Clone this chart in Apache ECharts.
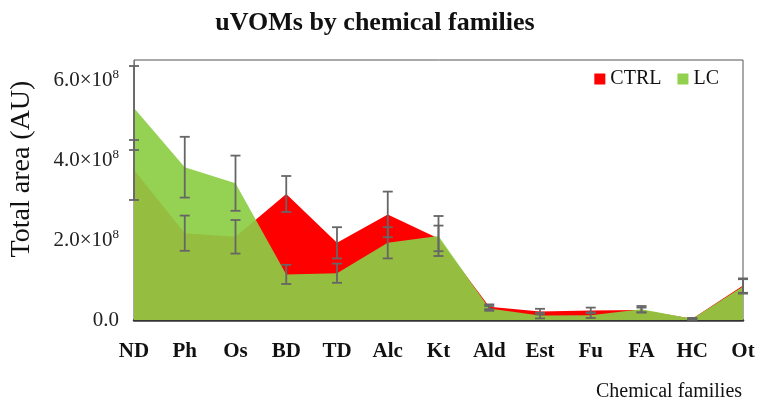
<!DOCTYPE html>
<html><head><meta charset="utf-8">
<script src="https://cdn.jsdelivr.net/npm/echarts@6/dist/echarts.min.js"></script>
<style>html,body{margin:0;padding:0;background:#fff}#c{width:760px;height:412px}</style>
</head><body><div id="c"></div>
<script>
const categories = ['ND','Ph','Os','BD','TD','Alc','Kt','Ald','Est','Fu','FA','HC','Ot'];
const ctrlValues = [3.75e8, 2.17e8, 2.08e8, 3.15e8, 1.93e8, 2.64e8, 2.04e8, 0.33e8, 0.21e8, 0.24e8, 0.25e8, 0.03e8, 0.86e8];
const ctrlErrors = [0.75e8, 0.44e8, 0.42e8, 0.45e8, 0.39e8, 0.57e8, 0.32e8, 0.06e8, 0.07e8, 0.07e8, 0.06e8, 0.02e8, 0.18e8];
const lcValues   = [5.30e8, 3.82e8, 3.42e8, 1.14e8, 1.17e8, 1.93e8, 2.10e8, 0.29e8, 0.11e8, 0.12e8, 0.27e8, 0.03e8, 0.84e8];
const lcErrors   = [1.05e8, 0.76e8, 0.69e8, 0.24e8, 0.24e8, 0.39e8, 0.50e8, 0.06e8, 0.07e8, 0.07e8, 0.08e8, 0.02e8, 0.18e8];
const yTicks = [0, 2e8, 4e8, 6e8];
const yTickLabels = ['0.0', '2.0×10|8', '4.0×10|8', '6.0×10|8'];

const serif = '"Liberation Serif", "DejaVu Serif", serif';

function errData(vals, errs) {
  return vals.map((v, i) => [i, v, errs[i]]);
}
function renderErr(params, api) {
  const x = api.value(0), v = api.value(1), e = api.value(2);
  const top = api.coord([x, v + e]);
  const bot = api.coord([x, v - e]);
  const hw = 5;
  const style = { stroke: '#666', lineWidth: 1.8, fill: null };
  return {
    type: 'group',
    children: [
      { type: 'line', shape: { x1: top[0], y1: top[1], x2: bot[0], y2: bot[1] }, style },
      { type: 'line', shape: { x1: top[0] - hw, y1: top[1], x2: top[0] + hw, y2: top[1] }, style },
      { type: 'line', shape: { x1: bot[0] - hw, y1: bot[1], x2: bot[0] + hw, y2: bot[1] }, style }
    ]
  };
}

const chart = echarts.init(document.getElementById('c'), null, { renderer: 'canvas' });
chart.setOption({
  animation: false,
  backgroundColor: '#fff',
  title: {
    text: 'uVOMs by chemical families',
    left: 370,
    textAlign: 'center',
    top: 5,
    textStyle: { fontFamily: serif, fontSize: 26, fontWeight: 'bold', color: '#111' }
  },
  legend: {
    data: ['CTRL', 'LC'],
    right: 36,
    top: 64,
    icon: 'rect',
    itemWidth: 11,
    itemHeight: 11,
    itemGap: 16,
    textStyle: { fontFamily: serif, fontSize: 20, color: '#111' }
  },
  grid: {
    left: 134, right: 17, top: 60, bottom: 92,
    show: true, borderColor: '#555', borderWidth: 1, backgroundColor: 'transparent'
  },
  xAxis: {
    type: 'category',
    data: categories,
    boundaryGap: false,
    axisLine: { lineStyle: { color: '#333', width: 2.5 } },
    axisTick: { show: false },
    axisLabel: { fontFamily: serif, fontSize: 21, fontWeight: 'bold', color: '#111', margin: 21, interval: 0 }
  },
  yAxis: {
    type: 'value',
    min: 0,
    max: 6.5e8,
    interval: 2e8,
    splitLine: { show: false },
    axisTick: { show: false },
    axisLine: { show: true, lineStyle: { color: '#777', width: 1 } },
    axisLabel: {
      margin: 15,
      showMaxLabel: false,
      formatter: function (v) {
        const idx = yTicks.indexOf(v);
        if (idx < 0) return '';
        const parts = yTickLabels[idx].split('|');
        return parts.length > 1 ? '{a|' + parts[0] + '}{b|' + parts[1] + '}' : '{a|' + parts[0] + '}';
      },
      rich: {
        a: { fontFamily: serif, fontSize: 21, color: '#222' },
        b: { fontFamily: serif, fontSize: 13, color: '#222', padding: [0, 0, 10, 0] }
      }
    }
  },
  graphic: [
    {
      type: 'text',
      left: 596,
      top: 382,
      style: { text: 'Chemical families', font: '20px ' + serif, fill: '#111' }
    },
    {
      type: 'text',
      x: 22,
      y: 169,
      rotation: Math.PI / 2,
      style: { text: 'Total area (AU)', font: '28px ' + serif, fill: '#111', align: 'center', verticalAlign: 'middle' }
    }
  ],
  series: [
    {
      name: 'CTRL', type: 'line', data: ctrlValues, symbol: 'none',
      lineStyle: { width: 0 }, itemStyle: { color: '#ff0000' },
      areaStyle: { color: '#ff0000', opacity: 1 }, z: 2
    },
    {
      name: 'LC', type: 'line', data: lcValues, symbol: 'none',
      lineStyle: { width: 0 }, itemStyle: { color: '#92d050' },
      areaStyle: { color: 'rgb(140,205,68)', opacity: 0.92 }, z: 3
    },
    { name: 'errCTRL', type: 'custom', data: errData(ctrlValues, ctrlErrors), renderItem: renderErr, clip: false, z: 5, encode: { x: 0, y: 1 } },
    { name: 'errLC', type: 'custom', data: errData(lcValues, lcErrors), renderItem: renderErr, clip: false, z: 5, encode: { x: 0, y: 1 } }
  ]
});
</script>
</body></html>
